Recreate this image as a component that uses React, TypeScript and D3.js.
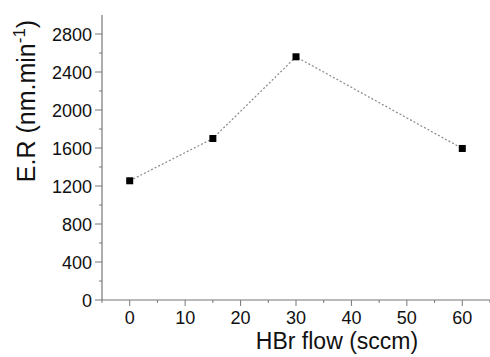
import React, { useEffect, useRef } from 'react';
import * as d3 from 'd3';

// HBr flow (sccm) vs etch rate (nm/min)
const flows = [0, 15, 30, 60];
const etchRates = [1255, 1700, 2560, 1595];
const xTicks = [0, 10, 20, 30, 40, 50, 60];
const yTicks = [0, 400, 800, 1200, 1600, 2000, 2400, 2800];

const App: React.FC = () => {
  const svgRef = useRef<SVGSVGElement | null>(null);

  useEffect(() => {
    if (!svgRef.current) return;
    const width = 490;
    const svg = d3.select(svgRef.current);
    svg.selectAll('*').remove();

    const x = d3.scaleLinear().domain([-5, 65]).range([102, 490]);
    const y = d3.scaleLinear().domain([0, 3000]).range([300, 15]);

    const axisColor = '#777';
    const font = 'Arial, "Liberation Sans", Helvetica, sans-serif';
    const g = svg.append('g');

    // minor ticks
    g.selectAll('.ymin').data(d3.range(200, 3000, 400)).enter().append('line')
      .attr('x1', 99).attr('x2', 102)
      .attr('y1', d => y(d)).attr('y2', d => y(d))
      .attr('stroke', axisColor).attr('stroke-width', 1);
    g.selectAll('.xmin').data(d3.range(-5, 66, 10)).enter().append('line')
      .attr('x1', d => x(d)).attr('x2', d => x(d))
      .attr('y1', 300).attr('y2', 303)
      .attr('stroke', axisColor).attr('stroke-width', 1);

    // major ticks
    g.selectAll('.ymaj').data(yTicks).enter().append('line')
      .attr('x1', 95).attr('x2', 102)
      .attr('y1', d => y(d)).attr('y2', d => y(d))
      .attr('stroke', axisColor).attr('stroke-width', 1);
    g.selectAll('.xmaj').data(xTicks).enter().append('line')
      .attr('x1', d => x(d)).attr('x2', d => x(d))
      .attr('y1', 300).attr('y2', 306)
      .attr('stroke', axisColor).attr('stroke-width', 1);

    // axis lines
    g.append('line').attr('x1', 102).attr('x2', 102).attr('y1', y(3000)).attr('y2', 300)
      .attr('stroke', axisColor).attr('stroke-width', 1.2);
    g.append('line').attr('x1', 102).attr('x2', width).attr('y1', 300).attr('y2', 300)
      .attr('stroke', axisColor).attr('stroke-width', 1.2);

    // tick labels
    g.selectAll('.ylab').data(yTicks).enter().append('text')
      .attr('x', 92).attr('y', d => y(d) + 6.5)
      .attr('text-anchor', 'end').attr('font-family', font).attr('font-size', 18)
      .attr('fill', '#111').text(d => d);
    g.selectAll('.xlab').data(xTicks).enter().append('text')
      .attr('x', d => x(d)).attr('y', 324)
      .attr('text-anchor', 'middle').attr('font-family', font).attr('font-size', 18)
      .attr('fill', '#111').text(d => d);

    // axis titles
    g.append('text')
      .attr('x', 337).attr('y', 349)
      .attr('text-anchor', 'middle').attr('font-family', font).attr('font-size', 23)
      .attr('fill', '#111').text('HBr flow (sccm)');
    const yt = g.append('text')
      .attr('transform', 'translate(35,101) rotate(-90)')
      .attr('text-anchor', 'middle').attr('font-family', font).attr('font-size', 25)
      .attr('fill', '#111');
    yt.append('tspan').text('E.R (nm.min');
    yt.append('tspan').attr('font-size', 17).attr('dy', -10).text('-1');
    yt.append('tspan').attr('dy', 10).text(')');

    // data
    const pts: [number, number][] = flows.map((f, i) => [f, etchRates[i]]);
    const line = d3.line<[number, number]>().x(d => x(d[0])).y(d => y(d[1]));
    g.append('path').datum(pts)
      .attr('d', line).attr('fill', 'none')
      .attr('stroke', '#888').attr('stroke-width', 1.2)
      .attr('stroke-dasharray', '2,2');
    g.selectAll('.pt').data(pts).enter().append('rect')
      .attr('x', d => x(d[0]) - 3.5).attr('y', d => y(d[1]) - 3.5)
      .attr('width', 7).attr('height', 7).attr('fill', '#000');
  }, []);

  return (
    <svg ref={svgRef} width={490} height={357}
      style={{ position: 'absolute', left: 0, top: 0, background: '#fff' }} />
  );
};

export default App;
